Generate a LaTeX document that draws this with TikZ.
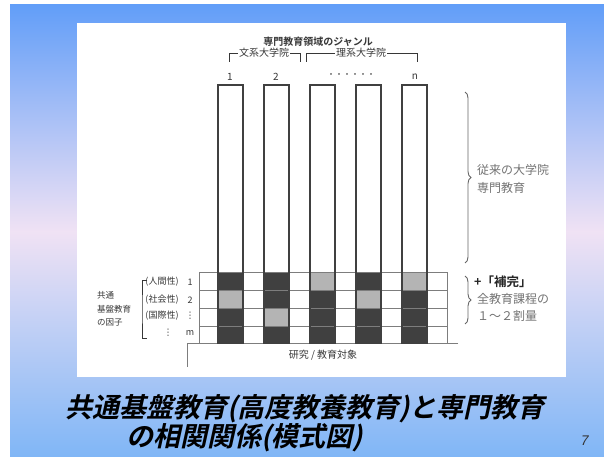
\documentclass[tikz,border=0pt]{standalone}
\usepackage{fontspec}
\newfontfamily\jp{Noto Sans CJK JP}
\newfontfamily\jpbold{Noto Sans CJK JP Bold}
\newfontfamily\titlefont[FakeSlant=0.22]{Noto Sans CJK JP Bold}
\newfontfamily\pagefont[FakeSlant=0.2]{Liberation Sans}
\newfontfamily\symfont{DejaVu Sans}
\usetikzlibrary{decorations.pathreplacing}
\definecolor{bgblue}{RGB}{98,158,248}
\definecolor{bgpink}{RGB}{240,226,244}
\definecolor{bgbot}{RGB}{128,182,246}
\definecolor{darkcell}{RGB}{64,64,64}
\definecolor{lightcell}{RGB}{180,180,180}
\definecolor{gridcol}{RGB}{125,125,125}
\definecolor{txt}{RGB}{55,55,55}
\definecolor{txtlight}{RGB}{115,115,115}
\tikzset{
  lbl/.style={font=\jp\fontsize{10}{12}\selectfont, text=txt, inner sep=1pt},
  lbls/.style={font=\jp\fontsize{9}{11}\selectfont, text=txt, inner sep=1pt},
  vdots/.style={font=\symfont\fontsize{9}{11}\selectfont, text=txt, inner sep=1pt},
  rlbl/.style={font=\jp\fontsize{12}{14}\selectfont, text=txtlight, inner sep=0pt, anchor=west},
  gridline/.style={draw=gridcol, line width=0.8pt},
  colline/.style={draw=black!75, line width=1.3pt},
  bracketline/.style={draw=txt, line width=0.8pt},
  bigbrace/.style={draw=black!60, line width=0.9pt, decorate, decoration={brace, amplitude=6pt}},
  titletext/.style={font=\titlefont\fontsize{27}{31}\selectfont, text=black, inner sep=0pt}
}
\begin{document}
\begin{tikzpicture}[x=1pt,y=-1pt]
\useasboundingbox (0,0) rectangle (604,457);
% background
\fill[white] (0,0) rectangle (604,457);
\shade[top color=bgblue, bottom color=bgpink] (10,5) rectangle (604,232);
\shade[top color=bgpink, bottom color=bgbot] (10,231) rectangle (604,457);
\fill[white] (77,23) rectangle (566,377);

% cells
\foreach \x/\y in {218/272,264/272,356/272, 264/290,310/290,402/290, 218/308,310/308,356/308,402/308, 218/326,264/326,310/326,356/326,402/326}
  \fill[darkcell] (\x,\y) rectangle ++(25,18);
\foreach \x/\y in {310/272,402/272, 218/290,356/290, 264/308}
  \fill[lightcell] (\x,\y) rectangle ++(25,18);
\fill[white] (190,344) rectangle (460,346);

% grid
\foreach \y in {272,290,308,326}
  \draw[gridline] (199,\y) -- (447,\y);
\foreach \x in {199,218,243,264,289,310,335,356,381,402,427,447}
  \draw[gridline] (\x,272) -- (\x,343);
\coordinate (baseR) at (458,343);
\coordinate (baseC) at (187,343);
\coordinate (baseB) at (187,367);
\draw[gridline] (baseR) -- (baseC) -- (baseB);

% columns
\foreach \x in {218,264,310,356,402}
  \draw[colline] (\x,85) rectangle ++(25,258);

% top labels
\node[lbl, font=\jpbold\fontsize{10}{12}\selectfont] (genre) at (318,42) {専門教育領域のジャンル};
\node[lbl] (bunkei) at (264,53) {文系大学院};
\node[lbl] (rikei) at (361,53) {理系大学院};
\coordinate (b1l) at (229,62);
\coordinate (b1r) at (300,62);
\coordinate (b2l) at (306,62);
\coordinate (b2r) at (417,62);
\draw[bracketline] (b1l) |- (bunkei.west);
\draw[bracketline] (bunkei.east) -| (b1r);
\draw[bracketline] (b2l) |- (rikei.west);
\draw[bracketline] (rikei.east) -| (b2r);
\node[lbl] (n1) at (230,77) {1};
\node[lbl] (n2) at (276,77) {2};
\node[lbl, font=\jp\fontsize{8}{9}\selectfont] (ndots) at (351,76) {・・・・・・};
\node[lbl] (nn) at (415,77) {n};

% left labels
\node[lbls] (f1) at (162,282) {(人間性)};
\node[lbls] (f2) at (162,300) {(社会性)};
\node[lbls] (f3) at (162,316) {(国際性)};
\node[vdots] (f4) at (168,333) {⋮};
\node[lbls] (k1) at (190,282) {1};
\node[lbls] (k2) at (190,300) {2};
\node[vdots] (k3) at (190,316) {⋮};
\node[lbls] (k4) at (190,333) {m};
\coordinate (lbt) at (147,280);
\coordinate (lbb) at (147,338);
\draw[bracketline] (lbt) -| (142,309) |- (lbb);
\node[lbls, font=\jp\fontsize{8.5}{13.5}\selectfont, align=left, anchor=west] (factor) at (96,309) {共通\\基盤教育\\の因子};

% bottom label
\node[lbl] (target) at (323,355) {研究 / 教育対象};

% right braces
\coordinate (br1t) at (465,92);
\coordinate (br1b) at (465,263);
\coordinate (br2t) at (465,276);
\coordinate (br2b) at (465,324);
\draw[bigbrace] (br1t) -- (br1b);
\draw[bigbrace] (br2t) -- (br2b);
\node[rlbl] (trad1) at (477,170) {従来の大学院};
\node[rlbl] (trad2) at (477,188) {専門教育};
\node[rlbl, font=\jpbold\fontsize{12.5}{14}\selectfont, text=black!85] (hokan) at (474,282) {+「補完」};
\node[rlbl] (ratio1) at (477,299) {全教育課程の};
\node[rlbl] (ratio2) at (477,316) {１～２割量};

% title
\node[titletext] (title1) at (305,409) {共通基盤教育(高度教養教育)と専門教育};
\node[titletext, anchor=west] (title2) at (126,438) {の相関関係(模式図)};
\node[font=\pagefont\fontsize{14}{16}\selectfont, text=black!80] (page) at (584,441) {7};
\end{tikzpicture}
\end{document}
